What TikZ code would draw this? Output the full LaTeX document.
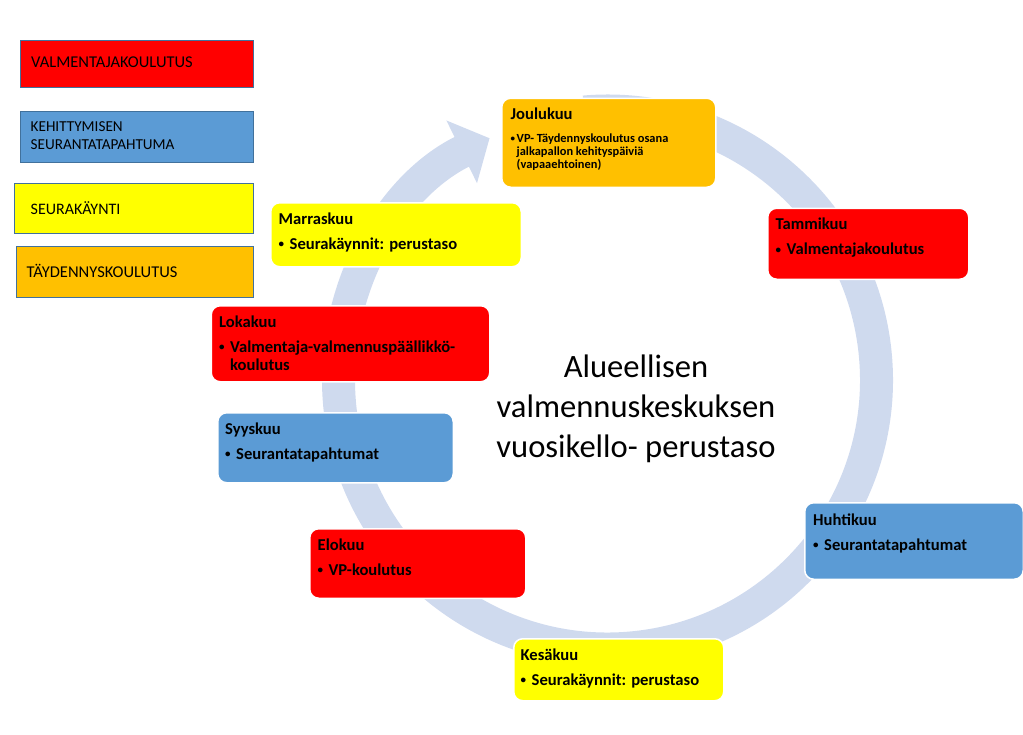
\documentclass[tikz,border=0pt]{standalone}
\usepackage{fontspec}
\setmainfont{Carlito}
\usetikzlibrary{arrows.meta}

\definecolor{vred}{HTML}{FF0000}
\definecolor{vorange}{HTML}{FFC000}
\definecolor{vyellow}{HTML}{FFFF00}
\definecolor{vblue}{HTML}{5B9BD5}
\definecolor{ringblue}{HTML}{CFDAEE}
\definecolor{legline}{HTML}{41719C}

% small bullet as in the slide
\newcommand{\vbul}{\raisebox{1.6pt}{\fontsize{11}{11}\selectfont\textbullet}\hspace{5.5pt}}

\begin{document}
\begin{tikzpicture}[x=1pt, y=-1pt,
  legbox/.style={draw=legline, line width=1pt, anchor=north west, inner sep=0pt},
  legtext/.style={anchor=west, inner sep=0pt, align=left, font=\fontsize{16.5}{18}\selectfont},
  month/.style={draw=white, line width=1.5pt, rounded corners=9pt, anchor=north west, inner sep=0pt},
  monthtext/.style={anchor=north west, inner sep=0pt, align=left,
                    font=\bfseries\fontsize{16.6}{18.5}\selectfont},
  ring/.style={draw=ringblue, line width=33pt, -{Triangle[width=68pt, length=31pt]}}
]
\useasboundingbox (0,0) rectangle (1023,734);

% --- Circular arrow (year cycle) ---
\coordinate (hub) at (607.5,380);
\draw[ring] (hub) ++(-95:269) arc[start angle=-95, end angle=244, radius=269];

% --- Legend ---
\node[legbox, fill=vred, minimum width=233pt, minimum height=47pt] (lvalm) at (20,40) {};
\node[legtext] (lvalmt) at (31,62) {VALMENTAJAKOULUTUS};
\node[legbox, fill=vblue, minimum width=233pt, minimum height=51pt] (lseur) at (20,111) {};
\node[legtext, font=\fontsize{15.2}{18}\selectfont] (lseurt) at (30.5,136) {KEHITTYMISEN\\SEURANTATAPAHTUMA};
\node[legbox, fill=vyellow, minimum width=239pt, minimum height=50pt] (lkayn) at (14,183) {};
\node[legtext, font=\fontsize{16}{18}\selectfont] (lkaynt) at (30.5,208) {SEURAKÄYNTI};
\node[legbox, fill=vorange, minimum width=237pt, minimum height=51pt] (ltayd) at (16,246) {};
\node[legtext] (ltaydt) at (26.5,271) {TÄYDENNYSKOULUTUS};

% --- Months ---
\node[month, fill=vorange, minimum width=214pt, minimum height=89pt] (dec) at (501,97.5) {};
\node[monthtext, font=\bfseries\fontsize{12.4}{12.7}\selectfont] (dect) at (510.5,108)
  {{\fontsize{16.6}{18.5}\selectfont Joulukuu}\\[10.3pt]
   \raisebox{1.2pt}{\fontsize{9}{9}\selectfont\textbullet}\hspace{1.5pt}VP- Täydennyskoulutus osana\\
   \hspace{6pt}jalkapallon kehityspäiviä\\
   \hspace{6pt}(vapaaehtoinen)};

\node[month, fill=vred, minimum width=201pt, minimum height=71pt] (jan) at (767,207.5) {};
\node[monthtext] (jant) at (775.5,218) {Tammikuu\\[6.5pt]\vbul Valmentajakoulutus};

\node[month, fill=vyellow, minimum width=250.5pt, minimum height=64pt] (nov) at (270,202) {};
\node[monthtext] (novt) at (278.5,212.5) {Marraskuu\\[6.5pt]\vbul Seurakäynnit: perustaso};

\node[month, fill=vred, minimum width=278.5pt, minimum height=76pt] (oct) at (210.5,305) {};
\node[monthtext] (octt) at (219,315.5)
  {Lokakuu\\[6.5pt]\vbul Valmentaja-valmennuspäällikkö-\\\phantom{\vbul}koulutus};

\node[month, fill=vblue, minimum width=235.5pt, minimum height=70pt] (sep) at (217,412) {};
\node[monthtext] (sept) at (225,422.5) {Syyskuu\\[6.5pt]\vbul Seurantatapahtumat};

\node[month, fill=vred, minimum width=216pt, minimum height=69.5pt] (aug) at (309,528) {};
\node[monthtext] (augt) at (317.5,538.5) {Elokuu\\[6.5pt]\vbul VP-koulutus};

\node[month, fill=vblue, minimum width=218.5pt, minimum height=76.5pt] (apr) at (804,502) {};
\node[monthtext] (aprt) at (813,513.5) {Huhtikuu\\[6.5pt]\vbul Seurantatapahtumat};

\node[month, fill=vyellow, minimum width=210pt, minimum height=62pt] (jun) at (513,638) {};
\node[monthtext] (junt) at (520.5,648.5) {Kesäkuu\\[6.5pt]\vbul Seurakäynnit: perustaso};

% --- Title in the middle ---
\node[anchor=north, align=center, inner sep=0pt, font=\fontsize{32.6}{40}\selectfont] (title)
  at (636,355) {Alueellisen\\valmennuskeskuksen\\vuosikello- perustaso};

\end{tikzpicture}
\end{document}
